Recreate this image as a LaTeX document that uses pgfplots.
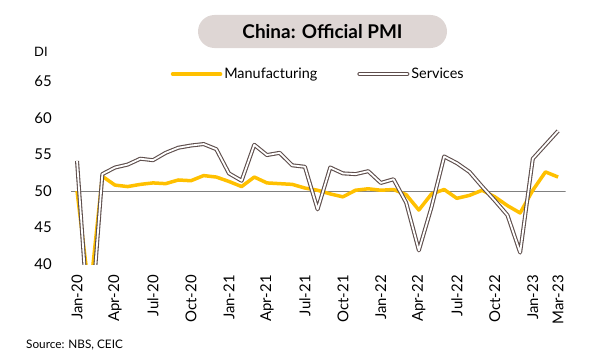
\documentclass[border=0pt]{standalone}
\usepackage{fontspec}
\setmainfont{Lato}
\usepackage{pgfplots}
\usepackage{pgfplotstable}
\pgfplotsset{compat=1.18}
\definecolor{mfg}{HTML}{FFC000}
\definecolor{srv}{HTML}{5E4E4C}
\definecolor{titlebg}{HTML}{DED6D4}
\definecolor{refline}{HTML}{808080}
\pgfplotstableread{
m mfg srv
0 50.0 54.1
1 35.7 29.6
2 52.0 52.3
3 50.8 53.2
4 50.6 53.6
5 50.9 54.4
6 51.1 54.2
7 51.0 55.2
8 51.5 55.9
9 51.4 56.2
10 52.1 56.4
11 51.9 55.7
12 51.3 52.4
13 50.6 51.4
14 51.9 56.3
15 51.1 54.9
16 51.0 55.2
17 50.9 53.5
18 50.4 53.3
19 50.1 47.5
20 49.6 53.2
21 49.2 52.4
22 50.1 52.3
23 50.3 52.7
24 50.1 51.1
25 50.2 51.6
26 49.5 48.4
27 47.4 41.9
28 49.6 47.8
29 50.2 54.7
30 49.0 53.8
31 49.4 52.6
32 50.1 50.6
33 49.2 48.7
34 48.0 46.7
35 47.0 41.6
36 50.1 54.4
37 52.6 56.3
38 51.9 58.2
}\pmidata
\begin{document}
\begin{tikzpicture}[x=1bp,y=1bp]
\path[use as bounding box] (0,0) rectangle (591,360);
\node[fill=titlebg, rounded corners=16.5bp, minimum width=249bp, minimum height=33bp, inner sep=0pt, font=\bfseries\fontsize{19}{22}\selectfont] at (322.5,328.5) {China: Official PMI};
\node[anchor=west, font=\fontsize{13}{15}\selectfont, inner sep=0pt] at (34,308) {DI};
\node[anchor=west, font=\fontsize{11.8}{14}\selectfont, inner sep=0pt] at (26,15) {Source: NBS, CEIC};
\begin{axis}[
  at={(70.7bp,95.7bp)}, anchor=south west, scale only axis,
  width=495bp, height=183.3bp,
  xmin=-0.5, xmax=38.6, ymin=40, ymax=65,
  ytick={40,45,...,65},
  xtick={0,3,...,36,38},
  xticklabels={Jan-20,Apr-20,Jul-20,Oct-20,Jan-21,Apr-21,Jul-21,Oct-21,Jan-22,Apr-22,Jul-22,Oct-22,Jan-23,Mar-23},
  axis line style={draw=none}, major tick length=0pt,
  /pgf/number format/assume math mode=true,
  ticklabel style={font=\fontsize{15}{17}\selectfont},
  yticklabel style={anchor=east, inner sep=0pt},
  yticklabel shift=18.7bp,
  xticklabel style={rotate=90, anchor=east, inner sep=0pt},
  xticklabel shift=10.7bp,
  legend style={at={(0.5,1.038)}, anchor=center, draw=none, fill=none, legend columns=2,
    font=\fontsize{14.5}{17}\selectfont, inner sep=0pt,
    /tikz/every even column/.append style={column sep=38bp}},
  legend image code/.code={\draw[#1, line cap=round] (0bp,0bp) -- (48bp,0bp);},
]
\addplot[refline, line width=0.8bp, forget plot] coordinates {(-0.5,50) (38.6,50)};
\addplot[mfg, line width=3.5bp, line join=round] table[x=m, y=mfg] {\pmidata};
\addlegendentry{Manufacturing}
\addplot[srv, line width=1.1bp, double=white, double distance=1.8bp, line join=round] table[x=m, y=srv] {\pmidata};
\addlegendentry{Services}
\end{axis}
\end{tikzpicture}
\end{document}
